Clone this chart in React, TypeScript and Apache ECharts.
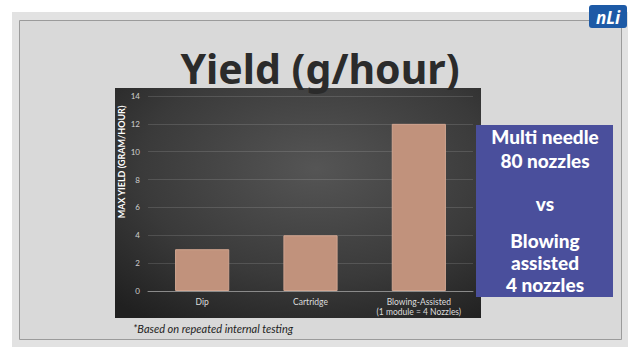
import React, { useEffect, useRef } from "react";
import * as echarts from "echarts";

const categories = ["Dip", "Cartridge", "Blowing-Assisted\n(1 module = 4 Nozzles)"];
const yieldValues = [3, 4, 12];
const yTicks = { min: 0, max: 14, interval: 2 };
const titleText = "Yield (g/hour)";
const yAxisName = "MAX YIELD (GRAM/HOUR)";
const sideLines = ["Multi needle", "80 nozzles", "", "vs", "", "Blowing", "assisted", "4 nozzles"];
const footnote = "*Based on repeated internal testing";

export default function App() {
  const ref = useRef<HTMLDivElement>(null);
  useEffect(() => {
    if (!ref.current) return;
    const chart = echarts.init(ref.current, null, { renderer: "svg" });
    const sideY = [136, 160, 0, 203, 0, 240, 262, 284];
    const sideTexts = sideLines
      .map((t, i) => ({ t, y: sideY[i] }))
      .filter((o) => o.t !== "")
      .map((o) => ({
        type: "text",
        z: 5,
        style: {
          text: o.t,
          x: 545,
          y: o.y,
          align: "center",
          verticalAlign: "middle",
          fill: "#ffffff",
          font: "900 19px Lato",
        },
      }));
    chart.setOption({
      animation: false,
      backgroundColor: "#ffffff",
      graphic: [
        {
          type: "rect",
          z: -20,
          shape: { x: 12, y: 12, width: 616, height: 335 },
          style: { fill: "#e2e2e2" },
        },
        {
          type: "rect",
          z: -19,
          shape: { x: 19.5, y: 20.5, width: 602, height: 319 },
          style: { fill: "#d9d9d9", stroke: "#9b9b9b", lineWidth: 1 },
        },
        {
          type: "rect",
          z: -18,
          shape: { x: 115, y: 88, width: 366, height: 230 },
          style: {
            fill: new echarts.graphic.RadialGradient(0.55, 0.35, 0.8, [
              { offset: 0, color: "#555555" },
              { offset: 0.6, color: "#3a3a3a" },
              { offset: 1, color: "#202020" },
            ]),
          },
        },
        {
          type: "text",
          z: 5,
          style: {
            text: titleText,
            x: 320,
            y: 68,
            align: "center",
            verticalAlign: "middle",
            fill: "#2b2b2b",
            font: "bold 41px 'Noto Sans'",
          },
        },
        {
          type: "text",
          z: 5,
          x: 121,
          y: 162,
          rotation: Math.PI / 2,
          style: {
            text: yAxisName,
            x: 0,
            y: 0,
            align: "center",
            verticalAlign: "middle",
            fill: "#ffffff",
            font: "bold 9px Lato",
          },
        },
        {
          type: "rect",
          z: 4,
          shape: { x: 476, y: 125, width: 137, height: 172 },
          style: { fill: "#4a4f9c" },
        },
        ...sideTexts,
        {
          type: "text",
          z: 5,
          style: {
            text: footnote,
            x: 133,
            y: 328,
            align: "left",
            verticalAlign: "middle",
            fill: "#1e1e1e",
            font: "italic 11px Lato",
          },
        },
        {
          type: "rect",
          z: 5,
          shape: { x: 589, y: 5, width: 38, height: 23, r: 3 },
          style: { fill: "#1d5aa6" },
        },
        {
          type: "text",
          z: 6,
          style: {
            text: "nLi",
            x: 608,
            y: 17,
            align: "center",
            verticalAlign: "middle",
            fill: "#ffffff",
            font: "italic bold 17px 'Noto Sans'",
          },
        },
      ],
      grid: { left: 148, right: 167, top: 96, bottom: 69 },
      xAxis: {
        type: "category",
        data: categories,
        axisLine: { lineStyle: { color: "#8a8a8a", width: 1 } },
        axisTick: { show: false },
        axisLabel: {
          interval: 0,
          color: "#dddddd",
          fontFamily: "Lato",
          fontSize: 8.5,
          margin: 6,
          lineHeight: 10,
        },
      },
      yAxis: {
        type: "value",
        min: yTicks.min,
        max: yTicks.max,
        interval: yTicks.interval,
        axisLine: { show: false },
        axisTick: { show: false },
        axisLabel: { color: "#cfcfcf", fontFamily: "Lato", fontSize: 8, margin: 8 },
        splitLine: { lineStyle: { color: "rgba(255,255,255,0.13)", width: 1 } },
      },
      series: [
        {
          type: "bar",
          data: yieldValues,
          barWidth: "50%",
          itemStyle: { color: "#c1927c", borderColor: "#d1a590", borderWidth: 1 },
        },
      ],
    });
    return () => chart.dispose();
  }, []);
  return (
    <div
      ref={ref}
      style={{ position: "fixed", left: 0, top: 0, width: 640, height: 360 }}
    />
  );
}
